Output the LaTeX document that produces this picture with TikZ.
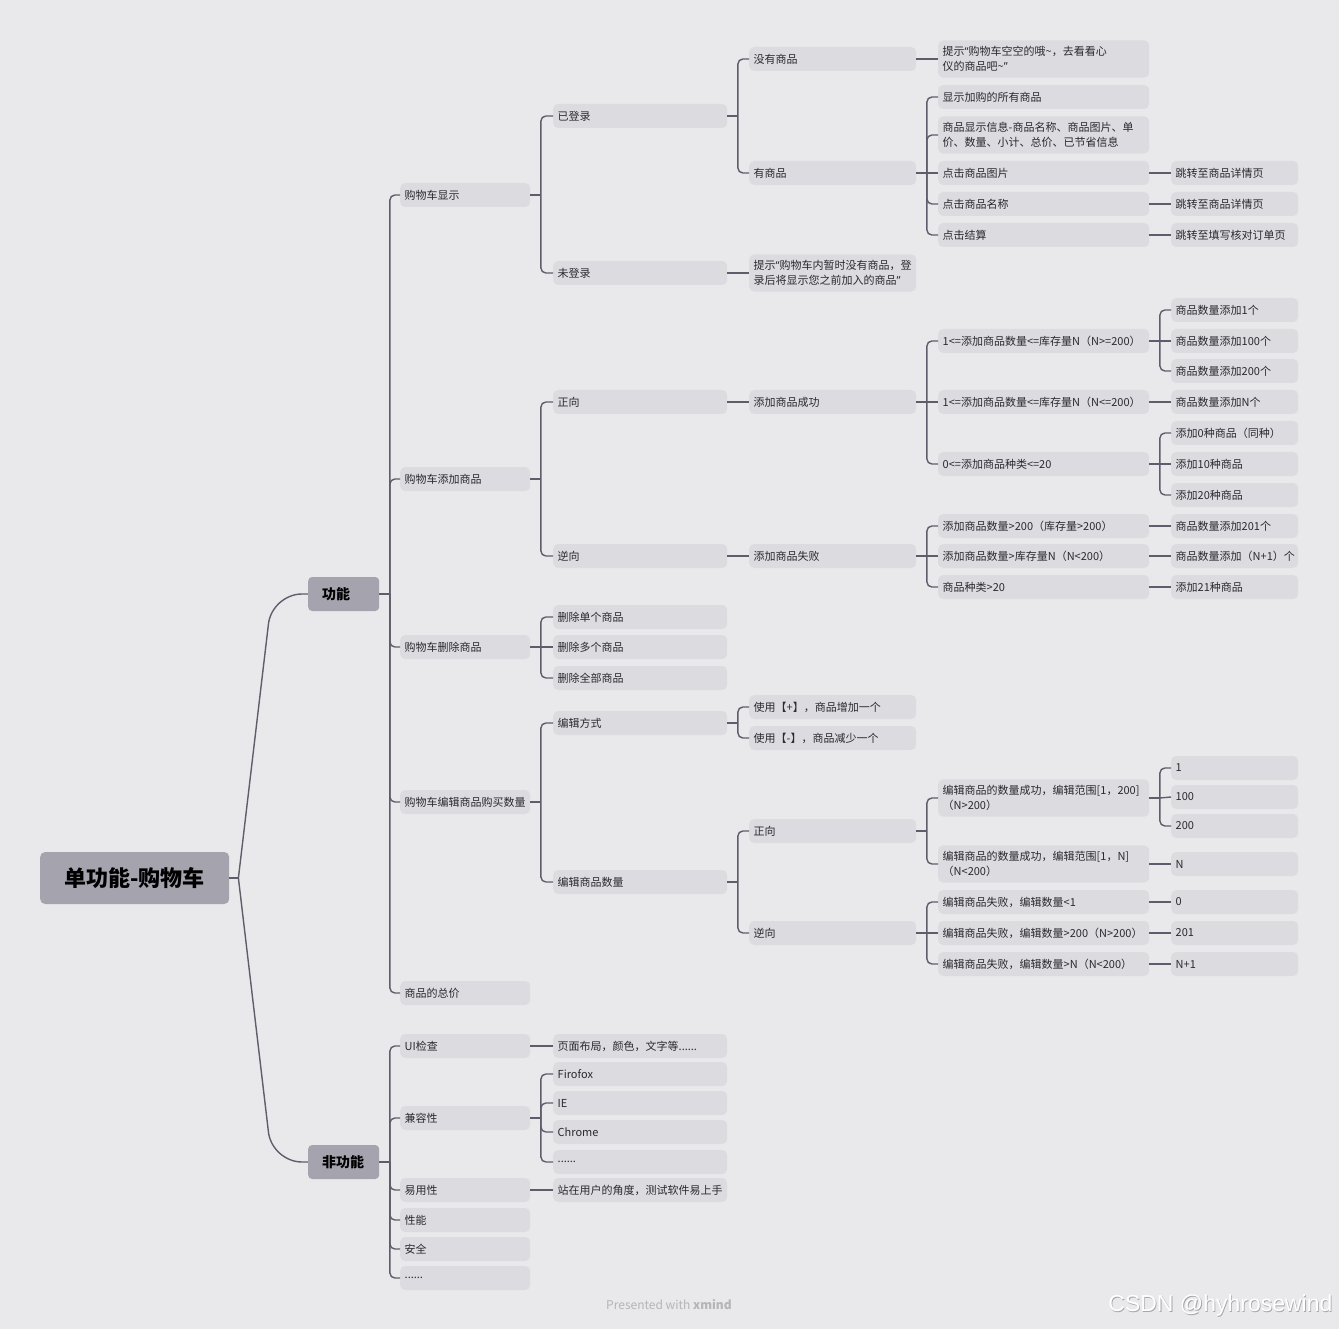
\documentclass[tikz,border=0pt]{standalone}
\usepackage{fontspec}
\setmainfont{Noto Sans CJK SC}
\newfontfamily\wmfont{Liberation Sans}
\newfontfamily\qfont{Noto Sans}
\newcommand\myLq{{\qfont “}}
\newcommand\myRq{{\qfont ”}}
\usetikzlibrary{calc}
\definecolor{bg}{HTML}{E9E9EC}
\definecolor{nodefill}{HTML}{DCDBE0}
\definecolor{topfill}{HTML}{A4A3AE}
\definecolor{linec}{HTML}{5E5D6B}
\definecolor{txt}{HTML}{2A2A2E}
\definecolor{foot}{HTML}{B4B4B9}
\newcommand\kids[2]{%
  \draw[conn] (#1.east) -- ++(10.5,0);
  \foreach \c in {#2}{%
    \pgfpointanchor{#1}{east}\pgfgetlastxy{\px}{\py}%
    \pgfpointanchor{\c}{west}\pgfgetlastxy{\cx}{\cy}%
    \pgfmathtruncatemacro\same{abs(\py-\cy)<1.5}%
    \ifnum\same=1
      \draw[conn] ($(#1.east)+(10.5,0)$) -- (\c.west);
    \else
      \draw[conn, rounded corners=5pt] ($(#1.east)+(10.5,0)$) |- (\c.west);
    \fi}%
}
\begin{document}
\begin{tikzpicture}[x=1pt,y=-1pt,
  box/.style={rectangle, rounded corners=5pt, fill=nodefill, anchor=west, minimum height=24pt,
    inner xsep=4.5pt, inner ysep=6pt, align=left, font=\fontsize{11}{15}\selectfont, text=txt},
  w2/.style={box, text width=121pt},
  w3/.style={box, text width=165pt},
  w4/.style={box, text width=158pt},
  w5/.style={box, text width=202pt},
  w6/.style={box, text width=118pt},
  top/.style={rectangle, rounded corners=4pt, fill=topfill, anchor=west, minimum height=34pt,
    text width=43pt, inner xsep=14pt, align=left, font=\bfseries\fontsize{14}{16}\selectfont, text=black},
  rootbox/.style={rectangle, rounded corners=5pt, fill=topfill, anchor=west, minimum height=52pt,
    minimum width=189pt, font=\bfseries\fontsize{22}{26}\selectfont, text=black},
  conn/.style={draw=linec, line width=1.4pt},
]
\fill[bg] (0,0) rectangle (1339,1329);
\useasboundingbox (0,0) rectangle (1339,1329);

% root and level 1
\node[rootbox] (root) at (40,878) {单功能-购物车};
\node[top] (gn) at (308,594) {功能};
\node[top] (fgn) at (308,1162) {非功能};

% level 2
\node[w2] (xs) at (400,195) {购物车显示};
\node[w2] (tj) at (400,479) {购物车添加商品};
\node[w2] (sc) at (400,647) {购物车删除商品};
\node[w2] (bj) at (400,802) {购物车编辑商品购买数量};
\node[w2] (zj) at (400,993) {商品的总价};
\node[w2] (ui) at (400,1046) {UI检查};
\node[w2] (jr) at (400,1118) {兼容性};
\node[w2] (yy) at (400,1190) {易用性};
\node[w2] (xn) at (400,1220) {性能};
\node[w2] (aq) at (400,1249) {安全};
\node[w2] (dd) at (400,1278) {......};

% level 3
\node[w3] (ydl) at (553,116) {已登录};
\node[w3] (wdl) at (553,273) {未登录};
\node[w3] (zx1) at (553,402) {正向};
\node[w3] (nx1) at (553,556) {逆向};
\node[w3] (sc1) at (553,617) {删除单个商品};
\node[w3] (sc2) at (553,647) {删除多个商品};
\node[w3] (sc3) at (553,678) {删除全部商品};
\node[w3] (bjfs) at (553,723) {编辑方式};
\node[w3] (bjsl) at (553,882) {编辑商品数量};
\node[w3] (ui1) at (553,1046) {页面布局，颜色，文字等......};
\node[w3] (jr1) at (553,1074) {Firofox};
\node[w3] (jr2) at (553,1103) {IE};
\node[w3] (jr3) at (553,1132) {Chrome};
\node[w3] (jr4) at (553,1162) {......};
\node[w3] (yy1) at (553,1190) {站在用户的角度，测试软件易上手};

% level 4
\node[w4] (myo) at (749,59) {没有商品};
\node[w4] (yo) at (749,173) {有商品};
\node[w4] (wdlT) at (749,273) {提示\myLq 购物车内暂时没有商品，登\\录后将显示您之前加入的商品\myRq};
\node[w4] (tjcg) at (749,402) {添加商品成功};
\node[w4] (tjsb) at (749,556) {添加商品失败};
\node[w4] (jia) at (749,707) {使用【+】，商品增加一个};
\node[w4] (jian) at (749,738) {使用【-】，商品减少一个};
\node[w4] (zx2) at (749,831) {正向};
\node[w4] (nx2) at (749,933) {逆向};

% level 5
\node[w5] (tsk) at (938,59) {提示\myLq 购物车空空的哦\textasciitilde，去看看心\\仪的商品吧\textasciitilde\myRq};
\node[w5] (xs1) at (938,97) {显示加购的所有商品};
\node[w5] (xs2) at (938,135) {商品显示信息-商品名称、商品图片、单\\价、数量、小计、总价、已节省信息};
\node[w5] (djtp) at (938,173) {点击商品图片};
\node[w5] (djmc) at (938,204) {点击商品名称};
\node[w5] (djjs) at (938,235) {点击结算};
\node[w5] (a1) at (938,341) {1<=添加商品数量<=库存量N（N>=200）};
\node[w5] (a2) at (938,402) {1<=添加商品数量<=库存量N（N<=200）};
\node[w5] (a3) at (938,464) {0<=添加商品种类<=20};
\node[w5] (b1) at (938,526) {添加商品数量>200（库存量>200）};
\node[w5] (b2) at (938,556) {添加商品数量>库存量N（N<200）};
\node[w5] (b3) at (938,587) {商品种类>20};
\node[w5] (e1) at (938,798) {编辑商品的数量成功，编辑范围[1，200]\\（N>200）};
\node[w5] (e2) at (938,864) {编辑商品的数量成功，编辑范围[1，N]\\（N<200）};
\node[w5] (f1) at (938,902) {编辑商品失败，编辑数量<1};
\node[w5] (f2) at (938,933) {编辑商品失败，编辑数量>200（N>200）};
\node[w5] (f3) at (938,964) {编辑商品失败，编辑数量>N（N<200）};

% level 6
\node[w6] (t1) at (1171,173) {跳转至商品详情页};
\node[w6] (t2) at (1171,204) {跳转至商品详情页};
\node[w6] (t3) at (1171,235) {跳转至填写核对订单页};
\node[w6] (c1) at (1171,310) {商品数量添加1个};
\node[w6] (c2) at (1171,341) {商品数量添加100个};
\node[w6] (c3) at (1171,371) {商品数量添加200个};
\node[w6] (c4) at (1171,402) {商品数量添加N个};
\node[w6] (c5) at (1171,433) {添加0种商品（同种）};
\node[w6] (c6) at (1171,464) {添加10种商品};
\node[w6] (c7) at (1171,495) {添加20种商品};
\node[w6] (c8) at (1171,526) {商品数量添加201个};
\node[w6] (c9) at (1171,556) {商品数量添加（N+1）个};
\node[w6] (c10) at (1171,587) {添加21种商品};
\node[w6] (g1) at (1171,768) {1};
\node[w6] (g2) at (1171,797) {100};
\node[w6] (g3) at (1171,826) {200};
\node[w6] (g4) at (1171,864) {N};
\node[w6] (g5) at (1171,902) {0};
\node[w6] (g6) at (1171,933) {201};
\node[w6] (g7) at (1171,964) {N+1};

% root connectors
\draw[conn] (root.east) -- ++(9,0) coordinate (rj);
\draw[conn, rounded corners=30pt] (rj) -- ($(gn.west)+(-36,0)$) -- (gn.west);
\draw[conn, rounded corners=30pt] (rj) -- ($(fgn.west)+(-36,0)$) -- (fgn.west);

% tree connectors
\kids{gn}{xs,tj,sc,bj,zj}
\kids{fgn}{ui,jr,yy,xn,aq,dd}
\kids{xs}{ydl,wdl}
\kids{tj}{zx1,nx1}
\kids{sc}{sc1,sc2,sc3}
\kids{bj}{bjfs,bjsl}
\kids{ui}{ui1}
\kids{jr}{jr1,jr2,jr3,jr4}
\kids{yy}{yy1}
\kids{ydl}{myo,yo}
\kids{wdl}{wdlT}
\kids{zx1}{tjcg}
\kids{nx1}{tjsb}
\kids{bjfs}{jia,jian}
\kids{bjsl}{zx2,nx2}
\kids{myo}{tsk}
\kids{yo}{xs1,xs2,djtp,djmc,djjs}
\kids{tjcg}{a1,a2,a3}
\kids{tjsb}{b1,b2,b3}
\kids{zx2}{e1,e2}
\kids{nx2}{f1,f2,f3}
\kids{djtp}{t1}
\kids{djmc}{t2}
\kids{djjs}{t3}
\kids{a1}{c1,c2,c3}
\kids{a2}{c4}
\kids{a3}{c5,c6,c7}
\kids{b1}{c8}
\kids{b2}{c9}
\kids{b3}{c10}
\kids{e1}{g1,g2,g3}
\kids{e2}{g4}
\kids{f1}{g5}
\kids{f2}{g6}
\kids{f3}{g7}

% footer
\node[font=\fontsize{12}{14}\selectfont, text=foot] (ft) at (669,1305) {Presented with \textbf{xmind}};
\node[anchor=east, font=\wmfont\fontsize{23}{26}\selectfont, text=gray!70] (wm1) at (1336.8,1306.8) {CSDN @hyhrosewind};
\node[anchor=east, font=\wmfont\fontsize{23}{26}\selectfont, text=white] (wm2) at (1336,1306) {CSDN @hyhrosewind};
\end{tikzpicture}
\end{document}
